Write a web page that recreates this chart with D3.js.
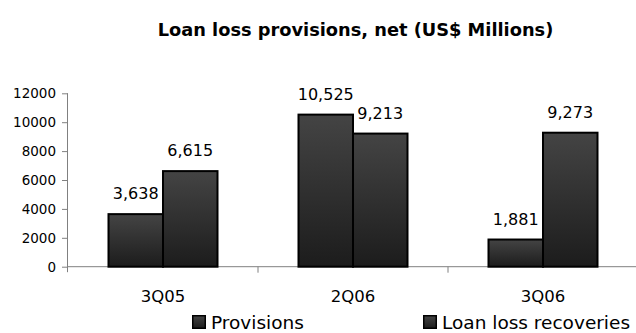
<!DOCTYPE html>
<html>
<head>
<meta charset="utf-8">
<script src="https://cdn.jsdelivr.net/npm/d3@7"></script>
<style>
  html, body { margin: 0; padding: 0; background: #fff; }
  svg { display: block; }
  text { font-family: "DejaVu Sans", sans-serif; fill: #000; }
</style>
</head>
<body>
<svg id="chart" width="636" height="333"></svg>
<script>
// Quarterly figures, US$ millions
const categories = ["3Q05", "2Q06", "3Q06"];
const seriesNames = ["Provisions", "Loan loss recoveries"];
const provisions = [3638, 10525, 1881];
const recoveries = [6615, 9213, 9273];
const yTicks = [0, 2000, 4000, 6000, 8000, 10000, 12000];

const svg = d3.select("#chart");
const plotLeft = 68, plotRight = 638, plotTop = 93.3, plotBottom = 266.7;

const x0 = d3.scaleBand().domain(categories).range([plotLeft, plotRight]).padding(0);
const x1 = d3.scaleBand().domain(seriesNames).range([0, x0.bandwidth()])
  .paddingInner(0).paddingOuter(0.743);
const y = d3.scaleLinear().domain([0, 12000]).range([plotBottom, plotTop]);

// bar fill gradient
const defs = svg.append("defs");
const grad = defs.append("linearGradient").attr("id", "barFill")
  .attr("x1", 0).attr("y1", 0).attr("x2", 0).attr("y2", 1);
grad.append("stop").attr("offset", "0%").attr("stop-color", "#444");
grad.append("stop").attr("offset", "100%").attr("stop-color", "#1c1c1c");

// title
svg.append("text")
  .attr("x", 355.5).attr("y", 36)
  .attr("text-anchor", "middle")
  .style("font-weight", "bold").style("font-size", "17.8px")
  .text("Loan loss provisions, net (US$ Millions)");

// y axis
const yAxis = d3.axisLeft(y).tickValues(yTicks).tickSize(6).tickPadding(6)
  .tickFormat(d3.format("d"));
const gy = svg.append("g").attr("transform", `translate(${plotLeft},0)`).call(yAxis);
gy.select(".domain").attr("stroke", "#808080").attr("d", `M-0.5,${plotTop}V${plotBottom + 5.5}`);
gy.selectAll(".tick line").attr("stroke", "#808080");
gy.selectAll(".tick text").style("font-size", "13.5px").attr("fill", "#000");

// x axis with ticks on category boundaries
const gx = svg.append("g").attr("transform", `translate(0,${plotBottom})`);
gx.append("line").attr("x1", plotLeft).attr("x2", plotRight).attr("stroke", "#808080");
gx.selectAll(".bound").data(categories.slice(1)).join("line")
  .attr("class", "bound")
  .attr("x1", d => x0(d)).attr("x2", d => x0(d))
  .attr("y1", 0).attr("y2", 6).attr("stroke", "#808080");
gx.selectAll(".cat").data(categories).join("text")
  .attr("class", "cat")
  .attr("x", d => x0(d) + x0.bandwidth() / 2).attr("y", 35.5)
  .attr("text-anchor", "middle").style("font-size", "16.5px")
  .text(d => d);

// bars
const rows = categories.map((c, i) => ({
  cat: c,
  vals: [{ s: seriesNames[0], v: provisions[i] }, { s: seriesNames[1], v: recoveries[i] }]
}));

const groups = svg.selectAll(".grp").data(rows).join("g")
  .attr("class", "grp")
  .attr("transform", d => `translate(${x0(d.cat)},0)`);

groups.selectAll("rect").data(d => d.vals).join("rect")
  .attr("x", d => x1(d.s))
  .attr("y", d => y(d.v))
  .attr("width", x1.bandwidth())
  .attr("height", d => y(0) - y(d.v))
  .attr("fill", "url(#barFill)")
  .attr("stroke", "#000").attr("stroke-width", 2);

groups.selectAll(".val").data(d => d.vals).join("text")
  .attr("class", "val")
  .attr("x", d => x1(d.s) + x1.bandwidth() / 2)
  .attr("y", d => y(d.v) - 15)
  .attr("text-anchor", "middle").style("font-size", "16px")
  .text(d => d3.format(",")(d.v));

// legend
const legendX = [192, 423];
const lg = svg.selectAll(".leg").data(seriesNames).join("g")
  .attr("class", "leg")
  .attr("transform", (d, i) => `translate(${legendX[i]},315)`);
lg.append("rect").attr("x", 0.75).attr("y", 0.75).attr("width", 12.5).attr("height", 12.5)
  .attr("fill", "url(#barFill)").attr("stroke", "#000").attr("stroke-width", 1.5);
lg.append("text").attr("x", 19).attr("y", 13.5).style("font-size", "18.5px").text(d => d);
</script>
</body>
</html>
